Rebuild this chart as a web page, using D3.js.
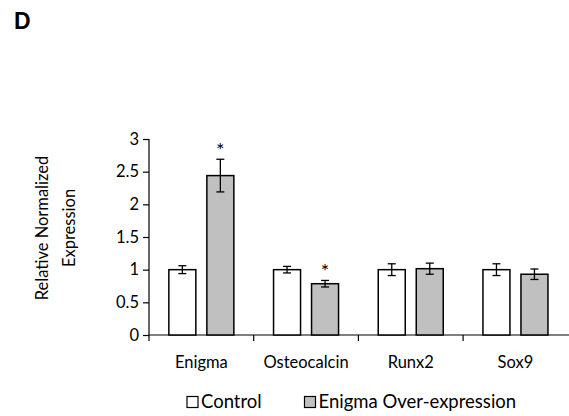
<!DOCTYPE html>
<html>
<head>
<meta charset="utf-8">
<script src="https://cdn.jsdelivr.net/npm/d3@7"></script>
<style>
  body { margin: 0; background: #fff; }
  svg text { font-family: Lato, "Open Sans", sans-serif; fill: #000; }
</style>
</head>
<body>
<div id="chart"></div>
<script>
const genes = ["Enigma", "Osteocalcin", "Runx2", "Sox9"];
const groups = ["Control", "Enigma Over-expression"];
const controlValues = [1.0, 1.0, 1.0, 1.0];
const controlErrors = [0.06, 0.05, 0.09, 0.09];
const overValues = [2.44, 0.785, 1.015, 0.93];
const overErrors = [0.25, 0.05, 0.085, 0.08];
const significant = [true, true, false, false];
const yTicks = [0, 0.5, 1, 1.5, 2, 2.5, 3];

const width = 569, height = 416;
const margin = { left: 149, top: 139, bottom: 81 };
const plotW = 104.7 * genes.length;
const fontSize = "16.5px";

const svg = d3.select("#chart").append("svg")
    .attr("width", width)
    .attr("height", height);

const x = d3.scaleBand()
    .domain(genes)
    .range([margin.left, margin.left + plotW]);

const y = d3.scaleLinear()
    .domain([0, 3])
    .range([height - margin.bottom, margin.top]);

const fills = ["#ffffff", "#c0c0c0"];
const barW = 27, gap = 11;
const offset = (x.bandwidth() - 2 * barW - gap) / 2;

// panel letter
svg.append("text")
    .attr("x", 14).attr("y", 29)
    .style("font-family", "Arial, 'Liberation Sans', sans-serif")
    .style("font-weight", "bold")
    .style("font-size", "23px")
    .text("D");

// y axis
const yAxis = svg.append("g")
    .attr("transform", `translate(${margin.left},0)`)
    .call(d3.axisLeft(y).tickValues(yTicks).tickSize(6).tickPadding(4).tickFormat(d3.format("")));
yAxis.selectAll("text").style("font-size", fontSize).style("font-family", "Lato, sans-serif");
yAxis.selectAll("line, path").attr("stroke", "#000").attr("stroke-width", 1.2);
yAxis.select(".domain").attr("d", `M0,${y(3)}V${y(0)}`);

// x axis line and ticks at category boundaries
const xg = svg.append("g");
xg.append("line")
    .attr("x1", margin.left).attr("x2", width)
    .attr("y1", y(0)).attr("y2", y(0))
    .attr("stroke", "#000").attr("stroke-width", 1.2);
xg.selectAll(".tk")
    .data(genes)
    .join("line")
    .attr("x1", d => x(d)).attr("x2", d => x(d))
    .attr("y1", y(0)).attr("y2", y(0) + 6)
    .attr("stroke", "#000").attr("stroke-width", 1.2);
xg.selectAll(".lbl")
    .data(genes)
    .join("text")
    .attr("x", d => x(d) + x.bandwidth() / 2)
    .attr("y", y(0) + 33)
    .attr("text-anchor", "middle")
    .style("font-size", fontSize)
    .text(d => d);

// bars
const series = [
    { values: controlValues, errors: controlErrors },
    { values: overValues, errors: overErrors }
];

series.forEach((s, si) => {
    const g = svg.append("g");
    const cx = i => x(genes[i]) + offset + si * (barW + gap) + barW / 2;
    g.selectAll("rect")
        .data(s.values)
        .join("rect")
        .attr("x", (d, i) => cx(i) - barW / 2)
        .attr("y", d => y(d))
        .attr("width", barW)
        .attr("height", d => y(0) - y(d))
        .attr("fill", fills[si])
        .attr("stroke", "#000")
        .attr("stroke-width", 1.5);

    // error bars
    s.values.forEach((v, i) => {
        const e = s.errors[i];
        const eg = g.append("g").attr("stroke", "#000").attr("stroke-width", 1.3);
        eg.append("line").attr("x1", cx(i)).attr("x2", cx(i)).attr("y1", y(v + e)).attr("y2", y(v - e));
        eg.append("line").attr("x1", cx(i) - 4).attr("x2", cx(i) + 4).attr("y1", y(v + e)).attr("y2", y(v + e));
        eg.append("line").attr("x1", cx(i) - 4).attr("x2", cx(i) + 4).attr("y1", y(v - e)).attr("y2", y(v - e));
        if (si === 1 && significant[i]) {
            g.append("text")
                .attr("x", cx(i))
                .attr("y", y(v + e) - 2)
                .attr("text-anchor", "middle")
                .style("font-size", "20px")
                .text("*");
        }
    });
});

// y axis title
svg.append("text")
    .attr("transform", `translate(0,228) rotate(-90)`)
    .attr("text-anchor", "middle")
    .style("font-size", fontSize)
    .selectAll("tspan")
    .data(["Relative Normalized", "Expression"])
    .join("tspan")
    .attr("x", 0)
    .attr("y", (d, i) => 48 + i * 27)
    .text(d => d);

// legend
const legendX = [187, 304.5];
const leg = svg.append("g");
groups.forEach((name, i) => {
    leg.append("rect")
        .attr("x", legendX[i]).attr("y", 396.5)
        .attr("width", 11).attr("height", 11)
        .attr("fill", fills[i])
        .attr("stroke", "#000").attr("stroke-width", 1.2);
    leg.append("text")
        .attr("x", legendX[i] + 14)
        .attr("y", 407.5)
        .style("font-size", "18.5px")
        .text(name);
});
</script>
</body>
</html>
